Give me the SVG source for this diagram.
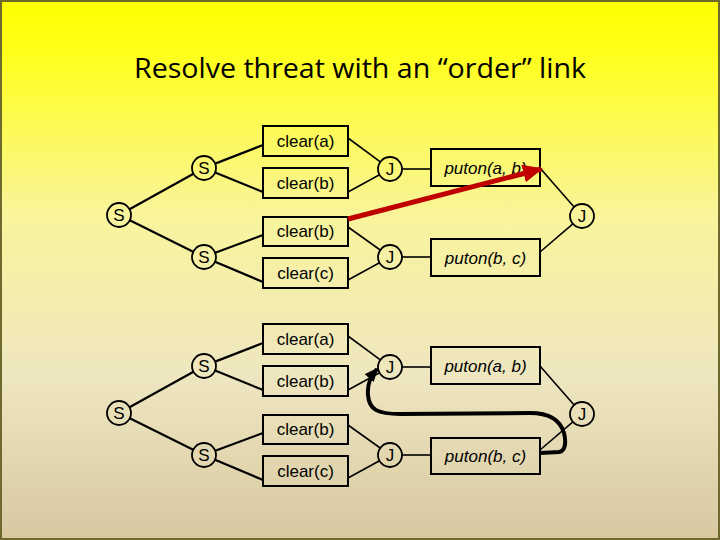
<svg xmlns="http://www.w3.org/2000/svg" width="720" height="540" viewBox="0 0 720 540">
<defs>
<linearGradient id="bg" x1="0" y1="0" x2="0" y2="1">
<stop offset="0" stop-color="#ffff00"/>
<stop offset="0.1" stop-color="#ffff1c"/>
<stop offset="0.4" stop-color="#f9f49c"/>
<stop offset="0.7" stop-color="#eee6c0"/>
<stop offset="1" stop-color="#d7c8a0"/>
</linearGradient>
<marker id="redhead" markerUnits="userSpaceOnUse" markerWidth="20" markerHeight="18" refX="18" refY="9" orient="auto">
<path d="M0,0 L20,9 L0,18 Z" fill="#c00000"/>
</marker>
<marker id="blackhead" markerUnits="userSpaceOnUse" markerWidth="14" markerHeight="12" refX="12" refY="6" orient="auto">
<path d="M0,0 L14,6 L0,12 Z" fill="#000"/>
</marker>
<style>
.box{fill:none;stroke:#000;stroke-width:2}
.circ{fill:none;stroke:#000;stroke-width:1.8}
.lbl{font-family:"Liberation Sans",Arial,sans-serif;font-size:17px;fill:#000;text-anchor:middle}
.it{font-style:italic}
.sl{stroke:#000;stroke-width:2.2;fill:none}
.jl{stroke:#000;stroke-width:1.6;fill:none}
</style>
</defs>
<rect x="0" y="0" width="720" height="540" fill="url(#bg)"/>
<rect x="1" y="1" width="718" height="538" fill="none" stroke="#6e6a2e" stroke-width="2"/>
<text x="360" y="78" font-family="'Open Sans','Noto Sans',sans-serif" font-size="28" text-anchor="middle" textLength="452" lengthAdjust="spacingAndGlyphs" fill="#000">Resolve threat with an “order” link</text>

<g id="plan-top">
<g id="connectors-top">
<line class="sl" x1="129.5" y1="209.2" x2="193.5" y2="173.8"/>
<line class="sl" x1="129.8" y1="220.3" x2="193.2" y2="251.7"/>
<line class="sl" x1="215.2" y1="163.6" x2="263" y2="145"/>
<line class="sl" x1="215.1" y1="172.5" x2="263" y2="192"/>
<line class="sl" x1="215.2" y1="252.8" x2="263" y2="235"/>
<line class="sl" x1="215" y1="261.7" x2="263" y2="282"/>
<line class="jl" x1="348" y1="138" x2="380.3" y2="161.9"/>
<line class="jl" x1="348" y1="192" x2="379.5" y2="174.8"/>
<line class="jl" x1="348" y1="227" x2="380.2" y2="250"/>
<line class="jl" x1="348" y1="280" x2="379.5" y2="262.8"/>
<line class="jl" x1="402" y1="169" x2="431" y2="169"/>
<line class="jl" x1="402" y1="257" x2="431" y2="257"/>
<line class="jl" x1="540" y1="168" x2="574.1" y2="207"/>
<line class="jl" x1="540" y1="252" x2="572.9" y2="223.8"/>
</g>
<g id="t-s-root"><circle class="circ" cx="119" cy="215" r="12"/><text class="lbl" x="119" y="221">S</text></g>
<g id="t-s-up"><circle class="circ" cx="204" cy="168" r="12"/><text class="lbl" x="204" y="174">S</text></g>
<g id="t-s-low"><circle class="circ" cx="204" cy="257" r="12"/><text class="lbl" x="204" y="263">S</text></g>
<g id="t-clear-a"><rect class="box" x="263" y="126" width="85" height="30"/><text class="lbl" x="305.5" y="147">clear(a)</text></g>
<g id="t-clear-b1"><rect class="box" x="263" y="168" width="85" height="30"/><text class="lbl" x="305.5" y="189">clear(b)</text></g>
<g id="t-clear-b2"><rect class="box" x="263" y="217" width="85" height="29"/><text class="lbl" x="305.5" y="237">clear(b)</text></g>
<g id="t-clear-c"><rect class="box" x="263" y="258" width="85" height="30"/><text class="lbl" x="305.5" y="279">clear(c)</text></g>
<g id="t-j-up"><circle class="circ" cx="390" cy="169" r="12"/><text class="lbl" x="390" y="175">J</text></g>
<g id="t-j-low"><circle class="circ" cx="390" cy="257" r="12"/><text class="lbl" x="390" y="263">J</text></g>
<g id="t-puton-ab"><rect class="box" x="431" y="149" width="109" height="37"/><text class="lbl it" x="485.5" y="174">puton(a, b)</text></g>
<g id="t-puton-bc"><rect class="box" x="431" y="239" width="109" height="37"/><text class="lbl it" x="485.5" y="264">puton(b, c)</text></g>
<g id="t-j-right"><circle class="circ" cx="582" cy="216" r="12"/><text class="lbl" x="582" y="222">J</text></g>
<g id="threat-order">
<line x1="348" y1="219" x2="541" y2="169" stroke="#c00000" stroke-width="5" marker-end="url(#redhead)"/>
</g>
</g>

<g id="plan-bottom" transform="translate(0,198)">
<g id="connectors-bottom">
<line class="sl" x1="129.5" y1="209.2" x2="193.5" y2="173.8"/>
<line class="sl" x1="129.8" y1="220.3" x2="193.2" y2="251.7"/>
<line class="sl" x1="215.2" y1="163.6" x2="263" y2="145"/>
<line class="sl" x1="215.1" y1="172.5" x2="263" y2="192"/>
<line class="sl" x1="215.2" y1="252.8" x2="263" y2="235"/>
<line class="sl" x1="215" y1="261.7" x2="263" y2="282"/>
<line class="jl" x1="348" y1="138" x2="380.3" y2="161.9"/>
<line class="jl" x1="348" y1="192" x2="379.5" y2="174.8"/>
<line class="jl" x1="348" y1="227" x2="380.2" y2="250"/>
<line class="jl" x1="348" y1="280" x2="379.5" y2="262.8"/>
<line class="jl" x1="402" y1="169" x2="431" y2="169"/>
<line class="jl" x1="402" y1="257" x2="431" y2="257"/>
<line class="jl" x1="540" y1="168" x2="574.1" y2="207"/>
<line class="jl" x1="540" y1="252" x2="572.9" y2="223.8"/>
</g>
<g id="b-s-root"><circle class="circ" cx="119" cy="215" r="12"/><text class="lbl" x="119" y="221">S</text></g>
<g id="b-s-up"><circle class="circ" cx="204" cy="168" r="12"/><text class="lbl" x="204" y="174">S</text></g>
<g id="b-s-low"><circle class="circ" cx="204" cy="257" r="12"/><text class="lbl" x="204" y="263">S</text></g>
<g id="b-clear-a"><rect class="box" x="263" y="126" width="85" height="30"/><text class="lbl" x="305.5" y="147">clear(a)</text></g>
<g id="b-clear-b1"><rect class="box" x="263" y="168" width="85" height="30"/><text class="lbl" x="305.5" y="189">clear(b)</text></g>
<g id="b-clear-b2"><rect class="box" x="263" y="217" width="85" height="29"/><text class="lbl" x="305.5" y="237">clear(b)</text></g>
<g id="b-clear-c"><rect class="box" x="263" y="258" width="85" height="30"/><text class="lbl" x="305.5" y="279">clear(c)</text></g>
<g id="b-j-up"><circle class="circ" cx="390" cy="169" r="12"/><text class="lbl" x="390" y="175">J</text></g>
<g id="b-j-low"><circle class="circ" cx="390" cy="257" r="12"/><text class="lbl" x="390" y="263">J</text></g>
<g id="b-puton-ab"><rect class="box" x="431" y="149" width="109" height="37"/><text class="lbl it" x="485.5" y="174">puton(a, b)</text></g>
<g id="b-puton-bc"><rect class="box" x="431" y="240" width="109" height="36"/><text class="lbl it" x="485.5" y="264">puton(b, c)</text></g>
<g id="b-j-right"><circle class="circ" cx="582" cy="216" r="12"/><text class="lbl" x="582" y="222">J</text></g>
<g id="order-link">
<path d="M540,255 L559,254 C566,253 566,243 564,235 C560,221 549,215 530,215 L400,216 C378,216 369,212 368,197 C367,187 370,179 377,171" fill="none" stroke="#000" stroke-width="4" marker-end="url(#blackhead)"/>
</g>
</g>
</svg>
